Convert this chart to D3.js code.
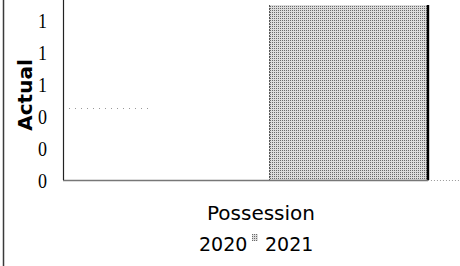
<!DOCTYPE html>
<html>
<head>
<meta charset="utf-8">
<script src="https://cdn.jsdelivr.net/npm/d3@7"></script>
<style>
  body { margin: 0; background: #fff; }
  svg { display: block; }
</style>
</head>
<body>
<div id="chart"></div>
<script>
// data
const groups = ["Possession"];
const years = ["2020", "2021"];
const values = [0, 1];            // 2020, 2021
const yTicks = [0, 0.2, 0.4, 0.6, 0.8, 1];
const yTitle = "Actual";

const width = 460, height = 266;
const svg = d3.select("#chart").append("svg")
    .attr("width", width)
    .attr("height", height);

// halftone grey like the scanned bar
let defs = svg.append("defs");
let pat = defs.append("pattern")
    .attr("id", "dots")
    .attr("width", 2).attr("height", 2)
    .attr("patternUnits", "userSpaceOnUse");
pat.append("rect").attr("width", 2).attr("height", 2).attr("fill", "#dcdcdc");
pat.append("rect").attr("width", 1).attr("height", 1).attr("fill", "#6a6a6a");

const colors = d3.scaleOrdinal().domain(years).range(["#ffffff", "url(#dots)"]);

let x0 = d3.scaleBand().domain(groups).range([63, 475]).paddingOuter(0.148).paddingInner(0);
let x1 = d3.scaleBand().domain(years).range([0, x0.bandwidth()]);
let y = d3.scaleLinear().domain([0, 1]).range([180, 5]);
// tick labels sit a little off the bar scale in the original
let yLab = d3.scaleLinear().domain([0, 1]).range([180, 20]);

// left page border
svg.append("line")
    .attr("x1", 3.5).attr("x2", 3.5)
    .attr("y1", 0).attr("y2", height)
    .attr("stroke", "#3a3a3a").attr("stroke-width", 1.5);

// faint leftover gridline
svg.append("line")
    .attr("x1", 63).attr("x2", 150)
    .attr("y1", 108.5).attr("y2", 108.5)
    .attr("stroke", "#999").attr("stroke-dasharray", "1,5");

// bars
svg.append("g").selectAll("rect")
    .data(years.map((yr, i) => ({year: yr, value: values[i], group: groups[0]})))
    .join("rect")
    .attr("x", d => x0(d.group) + x1(d.year))
    .attr("y", d => y(d.value))
    .attr("width", x1.bandwidth())
    .attr("height", d => y(0) - y(d.value))
    .attr("fill", d => colors(d.year));

// dark edges of the filled bar
let b = years[1];
let bx = x0(groups[0]) + x1(b);
svg.append("line")
    .attr("x1", bx + 0.5).attr("x2", bx + 0.5)
    .attr("y1", y(values[1])).attr("y2", y(0))
    .attr("stroke", "#555").attr("stroke-dasharray", "2,1");
svg.append("line")
    .attr("x1", bx + x1.bandwidth()).attr("x2", bx + x1.bandwidth())
    .attr("y1", y(values[1])).attr("y2", y(0))
    .attr("stroke", "#000").attr("stroke-width", 2.5);

// x axis
let xEnd = bx + x1.bandwidth();
svg.append("line")
    .attr("x1", 63).attr("x2", xEnd)
    .attr("y1", 180.5).attr("y2", 180.5)
    .attr("stroke", "#777").attr("stroke-width", 1.5);
svg.append("line")
    .attr("x1", xEnd).attr("x2", width)
    .attr("y1", 180.5).attr("y2", 180.5)
    .attr("stroke", "#999").attr("stroke-dasharray", "1,2");

// y axis
svg.append("line")
    .attr("x1", 63.5).attr("x2", 63.5)
    .attr("y1", 0).attr("y2", 180)
    .attr("stroke", "#222").attr("stroke-width", 1.2);

let yAxis = svg.append("g")
    .attr("transform", "translate(47,0)")
    .call(d3.axisLeft(yLab).tickValues(yTicks).tickFormat(d3.format(".0f")).tickSize(0).tickPadding(0));
yAxis.select(".domain").remove();
yAxis.selectAll("text")
    .attr("font-family", "'Liberation Serif', serif")
    .attr("font-size", 22)
    .attr("textLength", 9)
    .attr("lengthAdjust", "spacingAndGlyphs")
    .attr("fill", "#000");

svg.append("text")
    .attr("transform", "translate(32,95) rotate(-90)")
    .attr("text-anchor", "middle")
    .attr("font-family", "'DejaVu Sans', sans-serif")
    .attr("font-weight", "bold")
    .attr("font-size", 20)
    .text(yTitle);

// group label
svg.append("text")
    .attr("x", 207)
    .attr("y", 220)
    .attr("font-family", "'DejaVu Sans', sans-serif")
    .attr("font-size", 20)
    .attr("textLength", 108)
    .attr("lengthAdjust", "spacingAndGlyphs")
    .text(groups[0]);

// legend: swatch then year
let lx = [186, 252];
let legend = svg.append("g").selectAll("g")
    .data(years)
    .join("g")
    .attr("transform", (d, i) => `translate(${lx[i]},0)`);
legend.append("rect")
    .attr("x", 0).attr("y", 234)
    .attr("width", 6).attr("height", 7)
    .attr("fill", d => colors(d));
legend.append("text")
    .attr("x", 13)
    .attr("y", 251)
    .attr("font-family", "'DejaVu Sans', sans-serif")
    .attr("font-size", 19)
    .text(d => d);
</script>
</body>
</html>
